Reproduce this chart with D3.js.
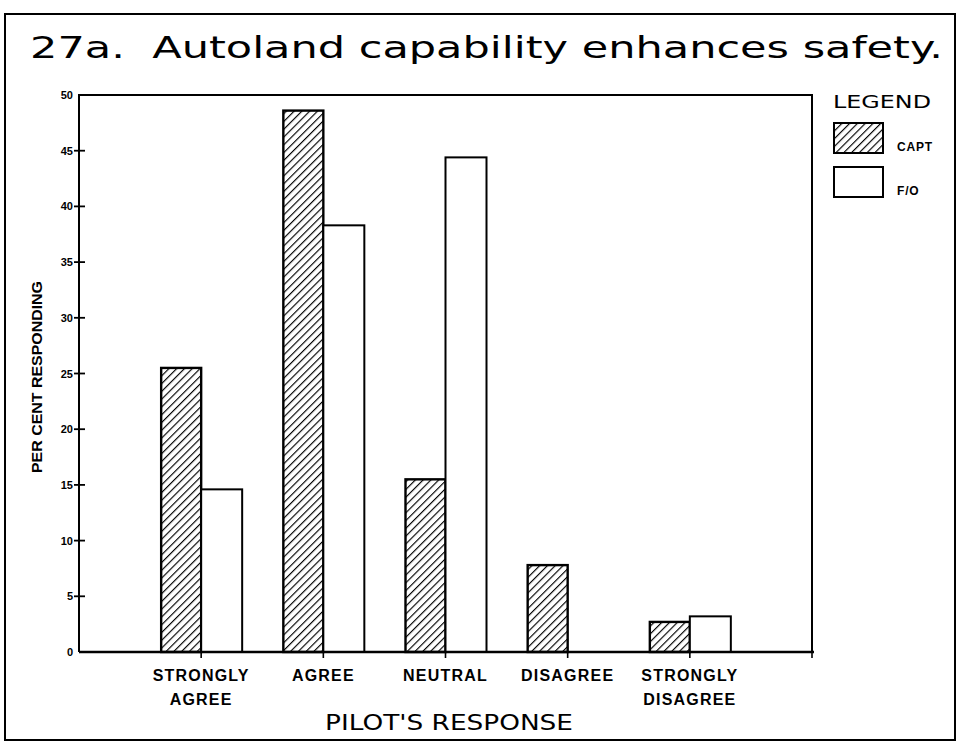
<!DOCTYPE html>
<meta charset="utf-8">
<style>
body { margin: 0; background: #fff; }
svg text { fill: #000; }
.title { font: 31px "DejaVu Sans", sans-serif; white-space: pre; }
.tick-y { font: bold 11px "Liberation Sans", Arial, sans-serif; text-anchor: end; }
.cat { font: bold 16px "Liberation Sans", Arial, sans-serif; text-anchor: middle; letter-spacing: 1.2px; }
.axis-title { font: 21px "DejaVu Sans", sans-serif; text-anchor: middle; }
.ylab { font: bold 15px "Liberation Sans", Arial, sans-serif; text-anchor: middle; }
</style>
<body>
<script src="https://d3js.org/d3.v7.min.js"></script>
<script>

// data
var categories = ["STRONGLY AGREE", "AGREE", "NEUTRAL", "DISAGREE", "STRONGLY DISAGREE"];
var labelLines = [["STRONGLY", "AGREE"], ["AGREE"], ["NEUTRAL"], ["DISAGREE"], ["STRONGLY", "DISAGREE"]];
var capt = [25.5, 48.6, 15.5, 7.8, 2.7];
var fo = [14.6, 38.3, 44.4, 0, 3.2];
var yTicks = [0, 5, 10, 15, 20, 25, 30, 35, 40, 45, 50];
var seriesNames = ["CAPT", "F/O"];

var w = 962, h = 744;
var x0 = 79, x1 = 812, yTop = 95, yBase = 652;
var barW = 40;

var svg = d3.select("body").append("svg")
    .attr("width", w)
    .attr("height", h)
    .style("display", "block");

var defs = svg.append("defs");
var pat = defs.append("pattern")
    .attr("id", "hatch")
    .attr("patternUnits", "userSpaceOnUse")
    .attr("width", 5.5)
    .attr("height", 10)
    .attr("patternTransform", "rotate(45)");
pat.append("line")
    .attr("x1", 0).attr("y1", 0)
    .attr("x2", 0).attr("y2", 10)
    .attr("stroke", "#000")
    .attr("stroke-width", 2.3);

// outer frame
svg.append("rect")
    .attr("x", 5).attr("y", 14)
    .attr("width", 950).attr("height", 726)
    .attr("fill", "none")
    .attr("stroke", "#000")
    .attr("stroke-width", 2);

svg.append("text")
    .attr("class", "title")
    .attr("x", 30).attr("y", 58)
    .attr("textLength", 913)
    .attr("lengthAdjust", "spacingAndGlyphs")
    .text("27a.  Autoland capability enhances safety.");

var x = d3.scalePoint()
    .domain(categories)
    .range([x0, x1])
    .padding(1);

var y = d3.scaleLinear()
    .domain([0, 50])
    .range([yBase, yTop]);

// plot box: left axis, top, right
svg.append("path")
    .attr("d", "M" + x0 + "," + yBase + "V" + yTop + "H" + x1 + "V" + yBase)
    .attr("fill", "none")
    .attr("stroke", "#000")
    .attr("stroke-width", 2);

// y ticks (cross ticks)
var yt = svg.append("g");
yt.selectAll("line")
    .data(yTicks.slice(1, -1))
    .enter().append("line")
    .attr("x1", x0 - 5).attr("x2", x0 + 6)
    .attr("y1", function(d) { return y(d); })
    .attr("y2", function(d) { return y(d); })
    .attr("stroke", "#000")
    .attr("stroke-width", 1.8);
yt.selectAll("text")
    .data(yTicks)
    .enter().append("text")
    .attr("class", "tick-y")
    .attr("x", x0 - 6)
    .attr("y", function(d) { return y(d) + 4; })
    .text(function(d) { return d; });

// x ticks at group centres and at right end
svg.append("g").selectAll("line")
    .data(categories)
    .enter().append("line")
    .attr("x1", function(d) { return x(d); })
    .attr("x2", function(d) { return x(d); })
    .attr("y1", yBase).attr("y2", yBase + 6)
    .attr("stroke", "#000")
    .attr("stroke-width", 1.6);
svg.append("line")
    .attr("x1", x1).attr("x2", x1)
    .attr("y1", yBase).attr("y2", yBase + 6)
    .attr("stroke", "#000")
    .attr("stroke-width", 1.6);

// bars
var captData = categories.map(function(c, i) { return {cat: c, v: capt[i]}; });
var foData = categories.map(function(c, i) { return {cat: c, v: fo[i]}; })
    .filter(function(d) { return d.v > 0; });

svg.append("g").selectAll("rect")
    .data(captData)
    .enter().append("rect")
    .attr("x", function(d) { return x(d.cat) - barW; })
    .attr("y", function(d) { return y(d.v); })
    .attr("width", barW)
    .attr("height", function(d) { return yBase - y(d.v); })
    .attr("fill", "url(#hatch)")
    .attr("stroke", "#000")
    .attr("stroke-width", 2.4);

svg.append("g").selectAll("rect")
    .data(foData)
    .enter().append("rect")
    .attr("x", function(d) { return x(d.cat); })
    .attr("y", function(d) { return y(d.v); })
    .attr("width", barW + 1)
    .attr("height", function(d) { return yBase - y(d.v); })
    .attr("fill", "#fff")
    .attr("stroke", "#000")
    .attr("stroke-width", 2);

// baseline
svg.append("line")
    .attr("x1", x0).attr("x2", x1 + 2)
    .attr("y1", yBase).attr("y2", yBase)
    .attr("stroke", "#000")
    .attr("stroke-width", 2.5);

// category labels
var cl = svg.append("g").selectAll("text")
    .data(labelLines)
    .enter().append("text")
    .attr("class", "cat")
    .attr("x", function(d, i) { return x(categories[i]); })
    .attr("y", 681);
cl.selectAll("tspan")
    .data(function(d) { return d; })
    .enter().append("tspan")
    .attr("x", function() { return d3.select(this.parentNode).attr("x"); })
    .attr("dy", function(d, i) { return i ? 24 : 0; })
    .text(function(d) { return d; });

svg.append("text")
    .attr("class", "axis-title")
    .attr("x", 449).attr("y", 730)
    .attr("textLength", 248)
    .attr("lengthAdjust", "spacingAndGlyphs")
    .text("PILOT'S RESPONSE");

svg.append("text")
    .attr("class", "ylab")
    .attr("transform", "translate(42,377) rotate(-90)")
    .attr("textLength", 192)
    .attr("lengthAdjust", "spacingAndGlyphs")
    .text("PER CENT RESPONDING");

// legend
var lg = svg.append("g");
lg.append("text")
    .attr("x", 833).attr("y", 108)
    .attr("textLength", 98)
    .attr("lengthAdjust", "spacingAndGlyphs")
    .style("font", "18px 'DejaVu Sans', sans-serif")
    .text("LEGEND");
lg.selectAll("rect")
    .data(seriesNames)
    .enter().append("rect")
    .attr("x", 834)
    .attr("y", function(d, i) { return 123 + i * 44; })
    .attr("width", 49).attr("height", 30)
    .attr("fill", function(d, i) { return i ? "#fff" : "url(#hatch)"; })
    .attr("stroke", "#000")
    .attr("stroke-width", 2);
lg.selectAll("text.lt")
    .data(seriesNames)
    .enter().append("text")
    .attr("class", "lt")
    .attr("x", 897)
    .attr("y", function(d, i) { return 151 + i * 44; })
    .style("font", "bold 12px 'Liberation Sans', Arial, sans-serif")
    .style("letter-spacing", "0.8px")
    .text(function(d) { return d; });

</script>
</body>
